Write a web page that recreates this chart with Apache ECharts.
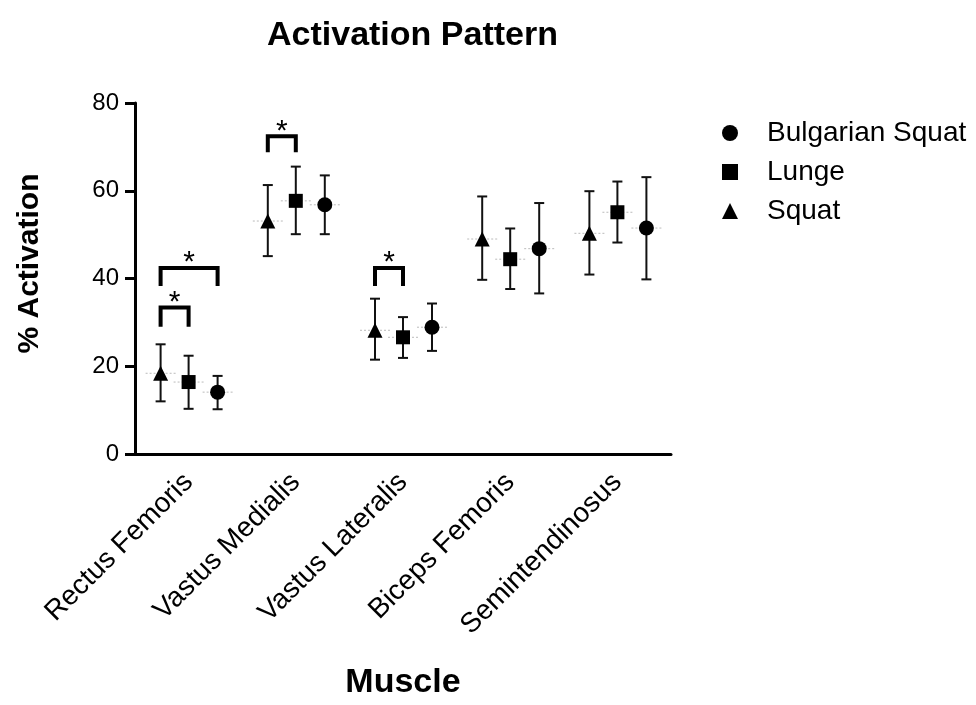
<!DOCTYPE html>
<html>
<head>
    <meta charset="UTF-8">
    <title>Activation Pattern</title>
    <script src="https://cdn.jsdelivr.net/npm/echarts@6/dist/echarts.min.js"></script>
    <style>
        html, body { margin: 0; padding: 0; background: #fff; }
        #chart { width: 976px; height: 705px; }
    </style>
</head>
<body>
    <div id="chart"></div>
    <script>
        // muscles on the x axis
        const muscles = ['Rectus Femoris', 'Vastus Medialis', 'Vastus Lateralis', 'Biceps Femoris', 'Semintendinosus'];

        // mean and error-bar ends (% activation)
        const squatMean = [18.4, 53.1, 28.2, 49.0, 50.3];
        const squatLow  = [12.0, 45.1, 21.5, 39.7, 40.9];
        const squatHigh = [25.0, 61.3, 35.4, 58.7, 59.9];

        const lungeMean = [16.4, 57.7, 26.6, 44.4, 55.1];
        const lungeLow  = [10.3, 50.1, 21.9, 37.6, 48.2];
        const lungeHigh = [22.4, 65.5, 31.2, 51.4, 62.1];

        const bulgarianMean = [14.1, 56.8, 28.9, 46.8, 51.5];
        const bulgarianLow  = [10.2, 50.1, 23.5, 36.6, 39.8];
        const bulgarianHigh = [17.8, 63.5, 34.3, 57.2, 63.1];

        // significance brackets
        const sigMuscle = [0, 0, 1, 2];
        const sigFrom = ['Squat', 'Squat', 'Squat', 'Squat'];
        const sigTo = ['Lunge', 'Bulgarian Squat', 'Lunge', 'Lunge'];
        const sigTop = [33.4, 42.4, 72.4, 42.4];
        const sigLegEnd = [29.0, 38.3, 68.8, 38.3];

        const font = "'Liberation Sans', Arial, sans-serif";
        // pixel shift of each group inside a category
        const shift = { 'Squat': -28, 'Lunge': 0, 'Bulgarian Squat': 29 };

        const groups = [
            { name: 'Bulgarian Squat', symbol: 'circle', size: 15, mean: bulgarianMean, low: bulgarianLow, high: bulgarianHigh },
            { name: 'Lunge', symbol: 'rect', size: 14, mean: lungeMean, low: lungeLow, high: lungeHigh },
            { name: 'Squat', symbol: 'triangle', size: 15, mean: squatMean, low: squatLow, high: squatHigh }
        ];

        const series = [];
        groups.forEach(function (g) {
            const off = shift[g.name];
            series.push({
                name: g.name + ' err',
                type: 'custom',
                z: 2,
                silent: true,
                data: muscles.map(function (m, i) { return [i, g.low[i], g.high[i], g.mean[i]]; }),
                renderItem: function (params, api) {
                    const x = api.coord([api.value(0), api.value(3)])[0] + off;
                    const yLo = api.coord([api.value(0), api.value(1)])[1];
                    const yHi = api.coord([api.value(0), api.value(2)])[1];
                    const yMid = api.coord([api.value(0), api.value(3)])[1];
                    const st = { stroke: '#111', lineWidth: 2 };
                    return {
                        type: 'group',
                        children: [
                            { type: 'line', shape: { x1: x - 15, y1: yMid, x2: x + 15, y2: yMid }, style: { stroke: '#bbb', lineWidth: 1, lineDash: [2, 2] } },
                            { type: 'line', shape: { x1: x, y1: yLo, x2: x, y2: yHi }, style: st },
                            { type: 'line', shape: { x1: x - 5, y1: yLo, x2: x + 5, y2: yLo }, style: st },
                            { type: 'line', shape: { x1: x - 5, y1: yHi, x2: x + 5, y2: yHi }, style: st }
                        ]
                    };
                }
            });
            series.push({
                name: g.name,
                type: 'scatter',
                z: 3,
                symbol: g.symbol,
                symbolSize: g.size,
                symbolOffset: [off, 0],
                itemStyle: { color: '#000', opacity: 1 },
                data: g.mean.map(function (v, i) { return [i, v]; })
            });
        });

        series.push({
            name: 'significance',
            type: 'custom',
            z: 4,
            silent: true,
            data: sigMuscle.map(function (m, i) { return [m, sigTop[i], sigLegEnd[i], i]; }),
            renderItem: function (params, api) {
                const k = api.value(3);
                const cx = api.coord([api.value(0), api.value(1)])[0];
                const yTop = api.coord([api.value(0), api.value(1)])[1];
                const yLeg = api.coord([api.value(0), api.value(2)])[1];
                const x1 = cx + shift[sigFrom[k]];
                const x2 = cx + shift[sigTo[k]];
                return {
                    type: 'group',
                    children: [
                        {
                            type: 'polyline',
                            shape: { points: [[x1, yLeg], [x1, yTop], [x2, yTop], [x2, yLeg]] },
                            style: { stroke: '#000', lineWidth: 4, fill: null, lineJoin: 'miter' }
                        },
                        {
                            type: 'text',
                            style: { text: '*', x: (x1 + x2) / 2, y: yTop - 5, align: 'center', verticalAlign: 'middle', font: '30px ' + font, fill: '#000' }
                        }
                    ]
                };
            }
        });

        const chart = echarts.init(document.getElementById('chart'));
        chart.setOption({
            animation: false,
            backgroundColor: '#fff',
            title: {
                text: 'Activation Pattern',
                left: 262,
                top: 14,
                textStyle: { fontFamily: font, fontSize: 34, fontWeight: 'bold', color: '#000' }
            },
            legend: {
                orient: 'vertical',
                left: 717,
                top: 114,
                itemWidth: 16,
                itemHeight: 16,
                itemGap: 11,
                selectedMode: false,
                data: [
                    { name: 'Bulgarian Squat', icon: 'circle' },
                    { name: 'Lunge', icon: 'rect' },
                    { name: 'Squat', icon: 'triangle' }
                ],
                itemStyle: { color: '#000' },
                textStyle: { fontFamily: font, fontSize: 28, color: '#000', padding: [0, 0, 0, 24] }
            },
            grid: { left: 135, top: 103, right: 305, bottom: 246 },
            xAxis: {
                type: 'category',
                data: muscles,
                name: 'Muscle',
                nameLocation: 'middle',
                nameGap: 212,
                nameTextStyle: { fontFamily: font, fontSize: 34, fontWeight: 'bold', color: '#000' },
                axisLine: { lineStyle: { color: '#000', width: 3 } },
                axisTick: { alignWithLabel: true, length: 9, lineStyle: { color: '#000', width: 3 } },
                axisLabel: { rotate: 45, margin: 24, fontFamily: font, fontSize: 28, color: '#000' },
                splitLine: { show: false }
            },
            yAxis: {
                type: 'value',
                min: 0,
                max: 80,
                interval: 20,
                name: '% Activation',
                nameLocation: 'middle',
                nameGap: 90,
                nameTextStyle: { fontFamily: font, fontSize: 30, fontWeight: 'bold', color: '#000', padding: [0, 0, 0, 30] },
                axisLine: { show: true, lineStyle: { color: '#000', width: 3 } },
                axisTick: { show: true, length: 10, lineStyle: { color: '#000', width: 3 } },
                axisLabel: { margin: 16, fontFamily: font, fontSize: 24, color: '#000' },
                splitLine: { show: false }
            },
            series: series
        });
    </script>
</body>
</html>
